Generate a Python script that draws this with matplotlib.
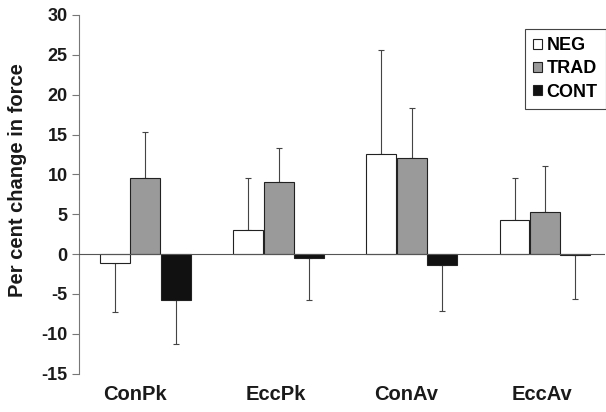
import numpy as np
import matplotlib.pyplot as plt

plt.rcParams['font.family'] = ['Liberation Sans', 'DejaVu Sans']
plt.rcParams['axes.unicode_minus'] = False

categories = ['ConPk', 'EccPk', 'ConAv', 'EccAv']
neg = [-1.1, 3.0, 12.5, 4.3]
trad = [9.5, 9.0, 12.0, 5.3]
cont = [-5.8, -0.5, -1.4, -0.1]
neg_err = [6.2, 6.5, 13.1, 5.2]
trad_err = [5.8, 4.3, 6.3, 5.7]
cont_err = [5.5, 5.3, 5.8, 5.5]

fig = plt.figure(figsize=(6.06, 4.12), dpi=100)
ax = fig.add_axes([0.130, 0.0934, 0.868, 0.8702])

x = np.arange(len(categories))
w = 0.225
series = [
    ('NEG', neg, neg_err, 'white', -0.228),
    ('TRAD', trad, trad_err, '#9a9a9a', 0.0),
    ('CONT', cont, cont_err, '#111111', 0.228),
]
for name, vals, errs, col, off in series:
    vals = np.array(vals)
    errs = np.array(errs)
    ax.bar(x + off, vals, w, color=col, edgecolor='#222222', linewidth=0.8,
           label=name, zorder=2)
    lower = np.where(vals < 0, errs, 0)
    upper = np.where(vals >= 0, errs, 0)
    ax.errorbar(x + off, vals, yerr=[lower, upper], fmt='none',
                ecolor='#444444', elinewidth=0.8, capsize=2, capthick=0.8,
                zorder=1)

ax.axhline(0, color='#555555', linewidth=0.8, zorder=3)
ax.set_xlim(-0.5, 3.45)
ax.set_ylim(-15, 30)
ax.set_yticks(np.arange(-15, 31, 5))
# labels sit a little left of the group centres in the original
ax.set_xticks(x + np.array([-0.075, -0.02, -0.04, -0.02]))
ax.set_xticklabels(categories, fontsize=14.5, fontweight='bold', color='#1a1a1a')
ax.tick_params(axis='x', length=0, pad=8)
ax.tick_params(axis='y', length=5, width=0.8, color='#777777', pad=3,
               labelsize=13, labelcolor='#1a1a1a')
for lab in ax.get_yticklabels():
    lab.set_fontweight('bold')
for s in ['top', 'right', 'bottom']:
    ax.spines[s].set_visible(False)
ax.spines['left'].set_color('#777777')
ax.spines['left'].set_linewidth(0.8)
ax.set_ylabel('Per cent change in force', fontsize=14.5, fontweight='bold',
              color='#1a1a1a')
ax.yaxis.set_label_coords(-0.098, 0.54)

leg = ax.legend(loc='upper right', bbox_to_anchor=(1.002, 0.961), fancybox=False,
                framealpha=1, edgecolor='#444444', handlelength=0.5,
                handleheight=0.5, handletextpad=0.25, borderpad=0.45,
                borderaxespad=0, labelspacing=0.35,
                prop={'weight': 'bold', 'size': 13})
leg.get_frame().set_linewidth(0.8)

fig.savefig('out.png', dpi=100)
